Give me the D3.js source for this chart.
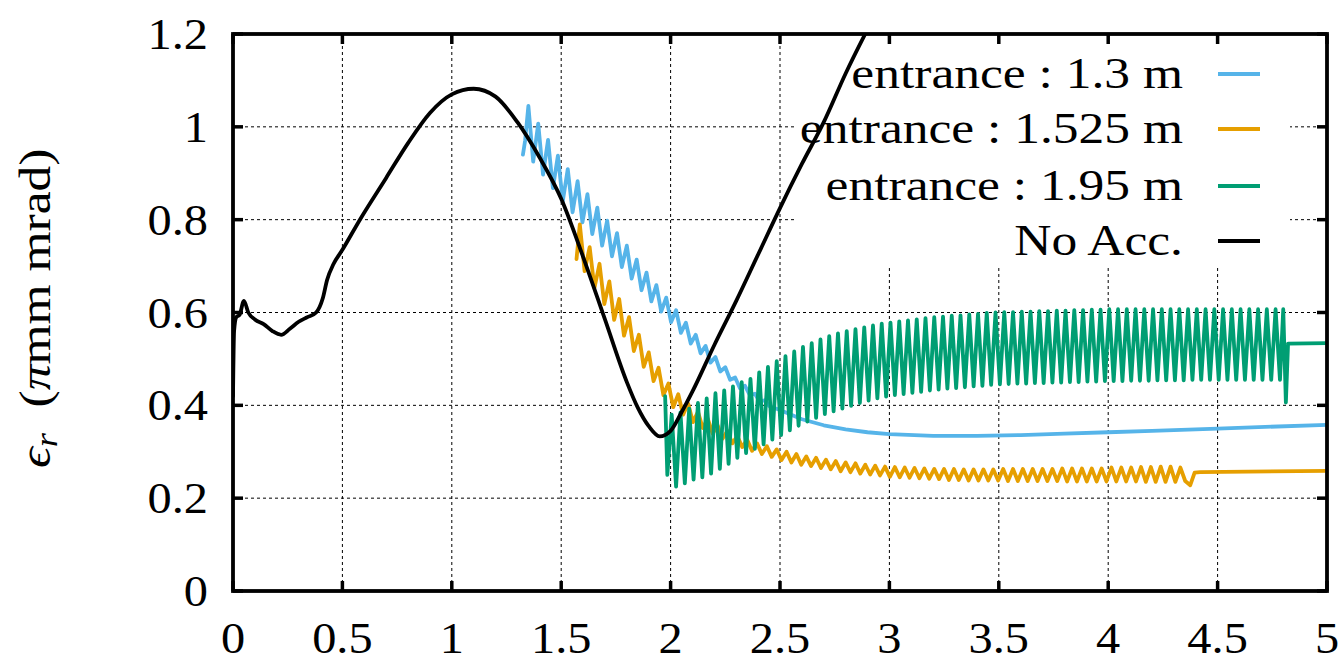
<!DOCTYPE html>
<html>
<head>
<meta charset="utf-8">
<script src="https://cdn.jsdelivr.net/npm/d3@7"></script>
<style>
  html, body { margin: 0; padding: 0; background: #fff; }
  svg { display: block; }
  text { font-family: "Liberation Serif", "Times New Roman", serif; fill: #000; }
</style>
</head>
<body>
<svg id="chart" width="1340" height="663"></svg>
<script>
// ---- data ----------------------------------------------------------------
const xTicks = [0, 0.5, 1, 1.5, 2, 2.5, 3, 3.5, 4, 4.5, 5];
const yTicks = [0, 0.2, 0.4, 0.6, 0.8, 1, 1.2];
const xTickLabels = ["0", "0.5", "1", "1.5", "2", "2.5", "3", "3.5", "4", "4.5", "5"];
const yTickLabels = ["0", "0.2", "0.4", "0.6", "0.8", "1", "1.2"];

const seriesNames = ["entrance : 1.3 m", "entrance : 1.525 m", "entrance : 1.95 m", "No Acc."];
const seriesColors = ["#56b4e9", "#e69f00", "#009e73", "#000000"];

// No acceleration
const noAccX = [0, 0.005, 0.015, 0.03, 0.05, 0.07, 0.1, 0.14, 0.18, 0.22, 0.26, 0.3, 0.34, 0.38, 0.41, 0.43, 0.46, 0.5, 0.58, 0.7, 0.8, 0.9, 1.0, 1.1, 1.2, 1.3, 1.4, 1.5, 1.6, 1.7, 1.8, 1.85, 1.9, 1.95, 2.0, 2.05, 2.1, 2.2, 2.3, 2.4, 2.5, 2.6, 2.7, 2.8, 2.9];
const noAccY = [0.42, 0.56, 0.59, 0.595, 0.625, 0.6, 0.585, 0.575, 0.56, 0.552, 0.565, 0.58, 0.59, 0.6, 0.63, 0.67, 0.705, 0.735, 0.80, 0.89, 0.965, 1.03, 1.07, 1.082, 1.065, 1.01, 0.935, 0.845, 0.72, 0.585, 0.45, 0.395, 0.355, 0.333, 0.345, 0.385, 0.43, 0.53, 0.625, 0.725, 0.825, 0.92, 1.01, 1.115, 1.21];

// entrance at 1.3 m
const e130X = [1.325, 1.335, 1.350, 1.372, 1.395, 1.417, 1.440, 1.462, 1.485, 1.507, 1.530, 1.552, 1.575, 1.597, 1.620, 1.642, 1.665, 1.687, 1.710, 1.732, 1.755, 1.777, 1.800, 1.822, 1.845, 1.867, 1.890, 1.912, 1.935, 1.957, 1.980, 2.002, 2.025, 2.047, 2.070, 2.092, 2.115, 2.137, 2.160, 2.182, 2.205, 2.227, 2.250, 2.272, 2.295, 2.317, 2.340, 2.362, 2.385, 2.407, 2.430, 2.452, 2.5, 2.6, 2.7, 2.8, 2.9, 3.0, 3.2, 3.4, 3.6, 3.8, 4.0, 4.2, 4.5, 5.0];
const e130Y = [0.94, 0.97, 1.045, 0.925, 1.007, 0.897, 0.972, 0.868, 0.938, 0.839, 0.909, 0.816, 0.883, 0.794, 0.855, 0.769, 0.826, 0.744, 0.798, 0.721, 0.771, 0.698, 0.744, 0.673, 0.714, 0.648, 0.686, 0.624, 0.659, 0.602, 0.632, 0.579, 0.605, 0.556, 0.578, 0.533, 0.552, 0.512, 0.528, 0.492, 0.504, 0.473, 0.482, 0.455, 0.460, 0.437, 0.442, 0.422, 0.425, 0.408, 0.411, 0.398, 0.390, 0.370, 0.357, 0.348, 0.342, 0.338, 0.334, 0.334, 0.336, 0.339, 0.342, 0.345, 0.350, 0.358];

// entrance at 1.525 m
const e1525X = [1.570, 1.585, 1.607, 1.630, 1.652, 1.675, 1.697, 1.720, 1.742, 1.765, 1.787, 1.810, 1.832, 1.855, 1.877, 1.900, 1.922, 1.945, 1.967, 1.990, 2.012, 2.035, 2.057, 2.080, 2.102, 2.125, 2.147, 2.170, 2.192, 2.215, 2.237, 2.260, 2.282, 2.305, 2.327, 2.350, 2.372, 2.395, 2.417, 2.440, 2.462, 2.485, 2.507, 2.530, 2.552, 2.575, 2.597, 2.620, 2.642, 2.665, 2.687, 2.710, 2.732, 2.755, 2.777, 2.800, 2.822, 2.845, 2.867, 2.890, 2.912, 2.935, 2.957, 2.980, 3.002, 3.025, 3.047, 3.070, 3.092, 3.115, 3.137, 3.160, 3.182, 3.205, 3.227, 3.250, 3.272, 3.295, 3.317, 3.340, 3.362, 3.385, 3.407, 3.430, 3.452, 3.475, 3.497, 3.520, 3.542, 3.565, 3.587, 3.610, 3.632, 3.655, 3.677, 3.700, 3.722, 3.745, 3.767, 3.790, 3.812, 3.835, 3.857, 3.880, 3.902, 3.925, 3.947, 3.970, 3.992, 4.015, 4.037, 4.060, 4.082, 4.105, 4.127, 4.150, 4.172, 4.195, 4.217, 4.240, 4.262, 4.285, 4.307, 4.330, 4.352, 4.375, 4.395, 4.420, 5.0];
const e1525Y = [0.715, 0.790, 0.689, 0.741, 0.653, 0.705, 0.618, 0.667, 0.584, 0.629, 0.550, 0.590, 0.517, 0.552, 0.483, 0.514, 0.452, 0.481, 0.422, 0.447, 0.396, 0.424, 0.380, 0.404, 0.364, 0.386, 0.351, 0.371, 0.339, 0.357, 0.328, 0.345, 0.318, 0.334, 0.310, 0.326, 0.302, 0.318, 0.295, 0.312, 0.289, 0.305, 0.282, 0.300, 0.277, 0.295, 0.272, 0.290, 0.269, 0.287, 0.265, 0.283, 0.262, 0.280, 0.258, 0.277, 0.256, 0.275, 0.253, 0.272, 0.251, 0.270, 0.249, 0.268, 0.246, 0.267, 0.245, 0.266, 0.244, 0.265, 0.243, 0.264, 0.242, 0.263, 0.241, 0.263, 0.239, 0.263, 0.239, 0.262, 0.238, 0.262, 0.238, 0.262, 0.238, 0.262, 0.238, 0.263, 0.237, 0.263, 0.237, 0.263, 0.237, 0.263, 0.237, 0.263, 0.237, 0.263, 0.237, 0.264, 0.236, 0.264, 0.236, 0.264, 0.236, 0.264, 0.236, 0.264, 0.236, 0.266, 0.236, 0.266, 0.236, 0.266, 0.236, 0.267, 0.235, 0.267, 0.235, 0.268, 0.235, 0.268, 0.235, 0.266, 0.237, 0.228, 0.255, 0.256, 0.259];

// entrance at 1.95 m
const e195X = [1.975, 1.985, 2.005, 2.025, 2.045, 2.065, 2.085, 2.105, 2.125, 2.145, 2.165, 2.185, 2.205, 2.225, 2.245, 2.265, 2.285, 2.305, 2.325, 2.345, 2.365, 2.385, 2.405, 2.425, 2.445, 2.465, 2.485, 2.505, 2.525, 2.545, 2.565, 2.585, 2.605, 2.625, 2.645, 2.665, 2.685, 2.705, 2.725, 2.745, 2.765, 2.785, 2.805, 2.825, 2.845, 2.865, 2.885, 2.905, 2.925, 2.945, 2.965, 2.985, 3.005, 3.025, 3.045, 3.065, 3.085, 3.105, 3.125, 3.145, 3.165, 3.185, 3.205, 3.225, 3.245, 3.265, 3.285, 3.305, 3.325, 3.345, 3.365, 3.385, 3.405, 3.425, 3.445, 3.465, 3.485, 3.505, 3.525, 3.545, 3.565, 3.585, 3.605, 3.625, 3.645, 3.665, 3.685, 3.705, 3.725, 3.745, 3.765, 3.785, 3.805, 3.825, 3.845, 3.865, 3.885, 3.905, 3.925, 3.945, 3.965, 3.985, 4.005, 4.025, 4.045, 4.065, 4.085, 4.105, 4.125, 4.145, 4.165, 4.185, 4.205, 4.225, 4.245, 4.265, 4.285, 4.305, 4.325, 4.345, 4.365, 4.385, 4.405, 4.425, 4.445, 4.465, 4.485, 4.505, 4.525, 4.545, 4.565, 4.585, 4.605, 4.625, 4.645, 4.665, 4.685, 4.705, 4.725, 4.745, 4.765, 4.785, 4.800, 4.812, 4.822, 5.0];
const e195Y = [0.420, 0.250, 0.380, 0.225, 0.385, 0.232, 0.393, 0.240, 0.405, 0.245, 0.415, 0.253, 0.426, 0.263, 0.432, 0.274, 0.441, 0.287, 0.450, 0.297, 0.457, 0.306, 0.471, 0.316, 0.483, 0.326, 0.495, 0.336, 0.506, 0.346, 0.516, 0.356, 0.526, 0.365, 0.534, 0.373, 0.542, 0.381, 0.549, 0.387, 0.555, 0.393, 0.560, 0.399, 0.564, 0.405, 0.568, 0.410, 0.572, 0.415, 0.576, 0.419, 0.578, 0.422, 0.581, 0.424, 0.583, 0.427, 0.585, 0.429, 0.588, 0.432, 0.590, 0.434, 0.591, 0.436, 0.593, 0.437, 0.594, 0.439, 0.596, 0.441, 0.597, 0.442, 0.599, 0.444, 0.600, 0.445, 0.601, 0.446, 0.601, 0.447, 0.602, 0.447, 0.602, 0.448, 0.603, 0.448, 0.603, 0.449, 0.604, 0.449, 0.604, 0.450, 0.605, 0.450, 0.605, 0.451, 0.606, 0.451, 0.606, 0.452, 0.607, 0.452, 0.607, 0.452, 0.607, 0.453, 0.607, 0.453, 0.607, 0.453, 0.607, 0.454, 0.607, 0.454, 0.607, 0.454, 0.607, 0.454, 0.607, 0.455, 0.607, 0.455, 0.607, 0.455, 0.607, 0.455, 0.607, 0.455, 0.607, 0.455, 0.607, 0.455, 0.607, 0.455, 0.607, 0.455, 0.607, 0.455, 0.607, 0.455, 0.607, 0.406, 0.533, 0.534];

// ---- layout ----------------------------------------------------------------
const svg = d3.select("#chart");
const plot = { left: 233, right: 1327, top: 34, bottom: 591 };
const FONT = 44;

const x = d3.scaleLinear().domain([0, 5]).range([plot.left, plot.right]);
const y = d3.scaleLinear().domain([0, 1.2]).range([plot.bottom, plot.top]);

// widen the serif glyphs a little (Computer Modern style proportions)
function widen(sel, k) {
  sel.each(function () {
    const w = this.getComputedTextLength();
    d3.select(this).attr("textLength", w * k).attr("lengthAdjust", "spacingAndGlyphs");
  });
}

svg.append("defs").append("clipPath").attr("id", "plotClip")
  .append("rect")
  .attr("x", plot.left).attr("y", plot.top)
  .attr("width", plot.right - plot.left).attr("height", plot.bottom - plot.top);

// grid (dashed), interior ticks only
const grid = svg.append("g").attr("class", "grid");
grid.selectAll("line.gx")
  .data(xTicks.filter(v => v > 0 && v < 5))
  .join("line")
  .attr("x1", d => x(d)).attr("x2", d => x(d))
  .attr("y1", plot.top).attr("y2", plot.bottom)
  .attr("stroke", "#000").attr("stroke-width", 1).attr("stroke-dasharray", "3,3");
grid.selectAll("line.gy")
  .data(yTicks.filter(v => v > 0 && v < 1.2))
  .join("line")
  .attr("x1", plot.left).attr("x2", plot.right)
  .attr("y1", d => y(d)).attr("y2", d => y(d))
  .attr("stroke", "#000").attr("stroke-width", 1).attr("stroke-dasharray", "3,3");

// opaque key background hides the grid behind the legend
const keyBox = { x0: 795, x1: 1290, y0: 42, y1: 268 };
svg.append("rect")
  .attr("x", keyBox.x0).attr("y", keyBox.y0)
  .attr("width", keyBox.x1 - keyBox.x0).attr("height", keyBox.y1 - keyBox.y0)
  .attr("fill", "#fff");

// ---- curves ----------------------------------------------------------------
const series = [
  { xs: e130X, ys: e130Y, curve: d3.curveLinear },
  { xs: e1525X, ys: e1525Y, curve: d3.curveLinear },
  { xs: e195X, ys: e195Y, curve: d3.curveLinear },
  { xs: noAccX, ys: noAccY, curve: d3.curveMonotoneX }
];

const lines = svg.append("g").attr("clip-path", "url(#plotClip)");
series.forEach((s, i) => {
  const pts = s.xs.map((v, j) => [v, s.ys[j]]);
  const gen = d3.line().x(d => x(d[0])).y(d => y(d[1])).curve(s.curve);
  lines.append("path")
    .attr("d", gen(pts))
    .attr("fill", "none")
    .attr("stroke", seriesColors[i])
    .attr("stroke-width", 3.8)
    .attr("stroke-linejoin", "round")
    .attr("stroke-linecap", "round");
});

// ---- frame and ticks -------------------------------------------------------
const axes = svg.append("g");
const TICK = 10;
const tickStyle = sel => sel.attr("stroke", "#000").attr("stroke-width", 3.5);

axes.selectAll("line.tb")
  .data(xTicks).join("line")
  .attr("x1", d => x(d)).attr("x2", d => x(d))
  .attr("y1", plot.bottom).attr("y2", plot.bottom - TICK).call(tickStyle);
axes.selectAll("line.tt")
  .data(xTicks).join("line")
  .attr("x1", d => x(d)).attr("x2", d => x(d))
  .attr("y1", plot.top).attr("y2", plot.top + TICK).call(tickStyle);
axes.selectAll("line.tl")
  .data(yTicks).join("line")
  .attr("x1", plot.left).attr("x2", plot.left + TICK)
  .attr("y1", d => y(d)).attr("y2", d => y(d)).call(tickStyle);
axes.selectAll("line.tr")
  .data(yTicks).join("line")
  .attr("x1", plot.right).attr("x2", plot.right - TICK)
  .attr("y1", d => y(d)).attr("y2", d => y(d)).call(tickStyle);

axes.append("rect")
  .attr("x", plot.left).attr("y", plot.top)
  .attr("width", plot.right - plot.left).attr("height", plot.bottom - plot.top)
  .attr("fill", "none").attr("stroke", "#000").attr("stroke-width", 3.8);

// tick labels
axes.selectAll("text.xl")
  .data(xTicks).join("text")
  .attr("x", d => x(d)).attr("y", 653)
  .attr("text-anchor", "middle")
  .attr("font-size", FONT)
  .text((d, i) => xTickLabels[i])
  .call(widen, 1.1);
axes.selectAll("text.yl")
  .data(yTicks).join("text")
  .attr("x", 208).attr("y", d => y(d) + 15)
  .attr("text-anchor", "end")
  .attr("font-size", FONT)
  .text((d, i) => yTickLabels[i])
  .call(widen, 1.1);

// y axis title
const yTitle = svg.append("text")
  .attr("transform", "translate(50,468) rotate(-90)")
  .attr("text-anchor", "start")
  .attr("font-size", FONT);
yTitle.append("tspan").attr("font-style", "italic").text("ϵ");
yTitle.append("tspan").attr("font-style", "italic").attr("font-size", 31).attr("dy", 7).text("r");
yTitle.append("tspan").attr("dy", -7).text("\u2002(");
yTitle.append("tspan").attr("font-style", "italic").text("π");
yTitle.append("tspan").text("mm mrad)");
yTitle.call(widen, 1.17);

// ---- legend ----------------------------------------------------------------
const legendRows = [74, 129, 186, 241];
const legend = svg.append("g");
seriesNames.forEach((name, i) => {
  legend.append("text")
    .attr("x", 1183).attr("y", legendRows[i] + 14)
    .attr("text-anchor", "end")
    .attr("font-size", FONT)
    .text(name)
    .call(widen, 1.17);
  legend.append("line")
    .attr("x1", 1218).attr("x2", 1260)
    .attr("y1", legendRows[i]).attr("y2", legendRows[i])
    .attr("stroke", seriesColors[i]).attr("stroke-width", 3.8);
});
</script>
</body>
</html>
